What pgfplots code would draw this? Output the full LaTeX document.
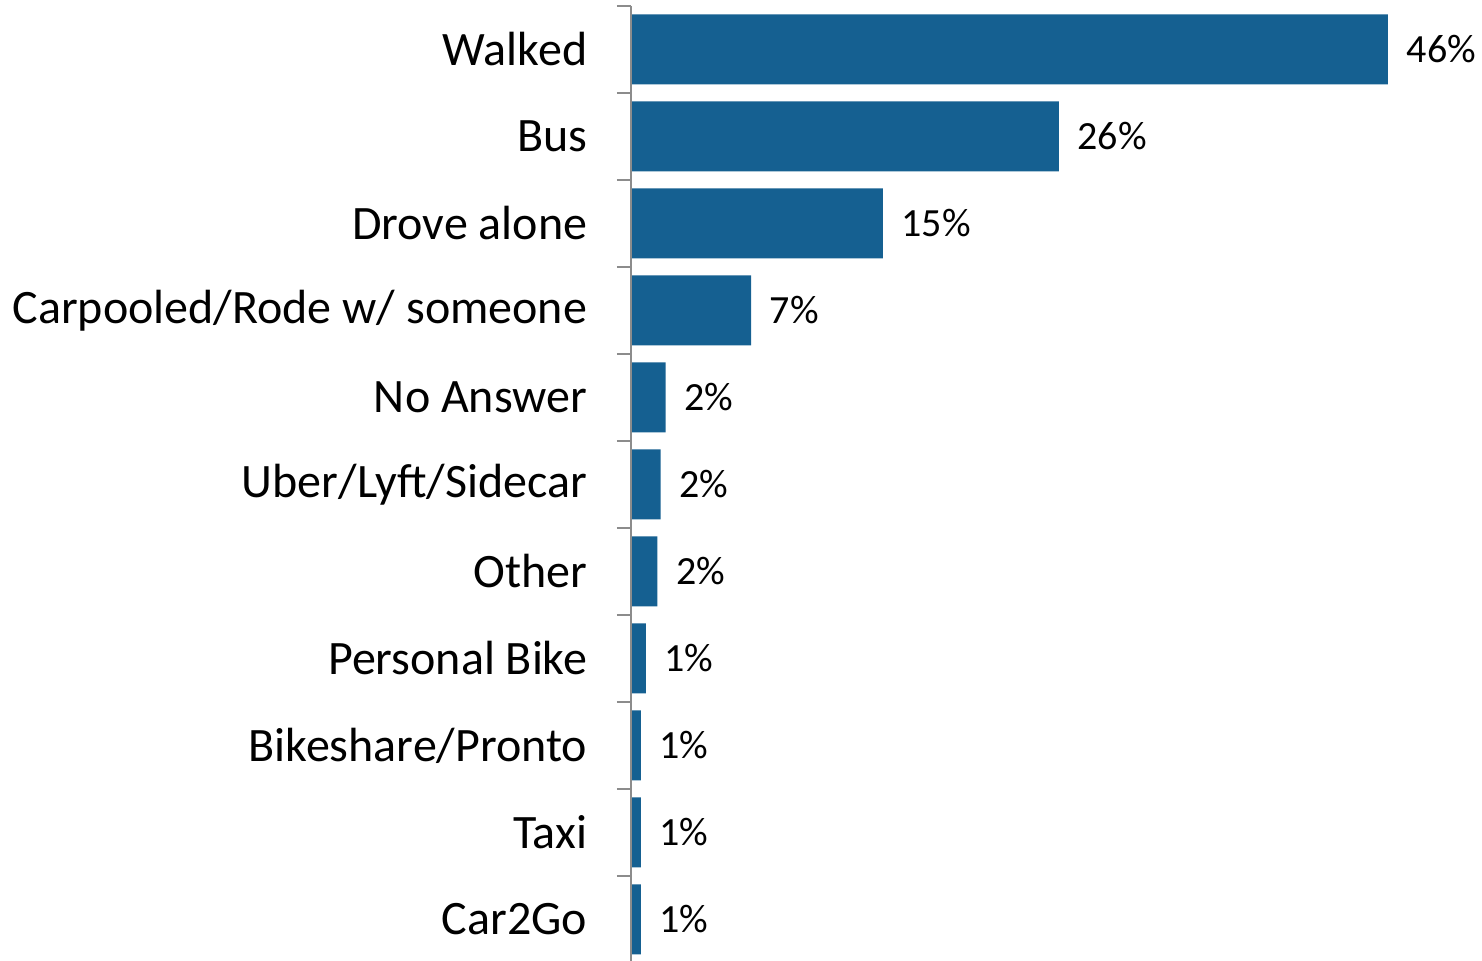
\documentclass[border=0pt]{standalone}
\usepackage{fontspec}
\setmainfont{Carlito}
\usepackage{pgfplots}
\pgfplotsset{compat=1.18}

\definecolor{barblue}{RGB}{21,96,145}
\definecolor{axisgray}{RGB}{140,140,140}

\begin{document}
\begin{tikzpicture}
\begin{axis}[
    xbar,
    width=189.25pt, height=239.25pt,
    scale only axis,
    y dir=reverse,
    xmin=0, xmax=46,
    ymin=-0.5, ymax=10.5,
    bar width=17.5pt,
    axis on top,
    axis x line=none,
    axis y line*=left,
    y axis line style={axisgray, line width=0.7pt, -},
    ytick={0,...,10},
    yticklabels={Walked, Bus, Drove alone, Carpooled/Rode w/ someone, No Answer,
        Uber/Lyft/Sidecar, Other, Personal Bike, Bikeshare/Pronto, Taxi, Car2Go},
    yticklabel style={font=\fontsize{12}{14}\selectfont, anchor=east, inner sep=0pt, xshift=-10.75pt},
    major tick length=0pt,
    minor ytick={-0.5,0.5,...,10.5},
    minor tick length=3.5pt,
    tick align=outside,
    every minor tick/.style={axisgray, line width=0.7pt},
    point meta=x,
    nodes near coords={\pgfmathprintnumber[fixed,precision=0,assume math mode=true]{\pgfplotspointmeta}\%},
    nodes near coords style={anchor=west, inner sep=0pt, xshift=4.5pt, font=\fontsize{10}{12}\selectfont},
    clip=false,
]
\addplot[fill=barblue, draw=none] coordinates {
    (46,0) (26,1) (15.3,2) (7.3,3) (2.1,4) (1.8,5) (1.6,6) (0.9,7) (0.6,8) (0.6,9) (0.6,10)
};
\end{axis}
\pgfresetboundingbox
\path[use as bounding box] (-157.75pt,0.5pt) rectangle (212.75pt,240.75pt);
\end{tikzpicture}
\end{document}
